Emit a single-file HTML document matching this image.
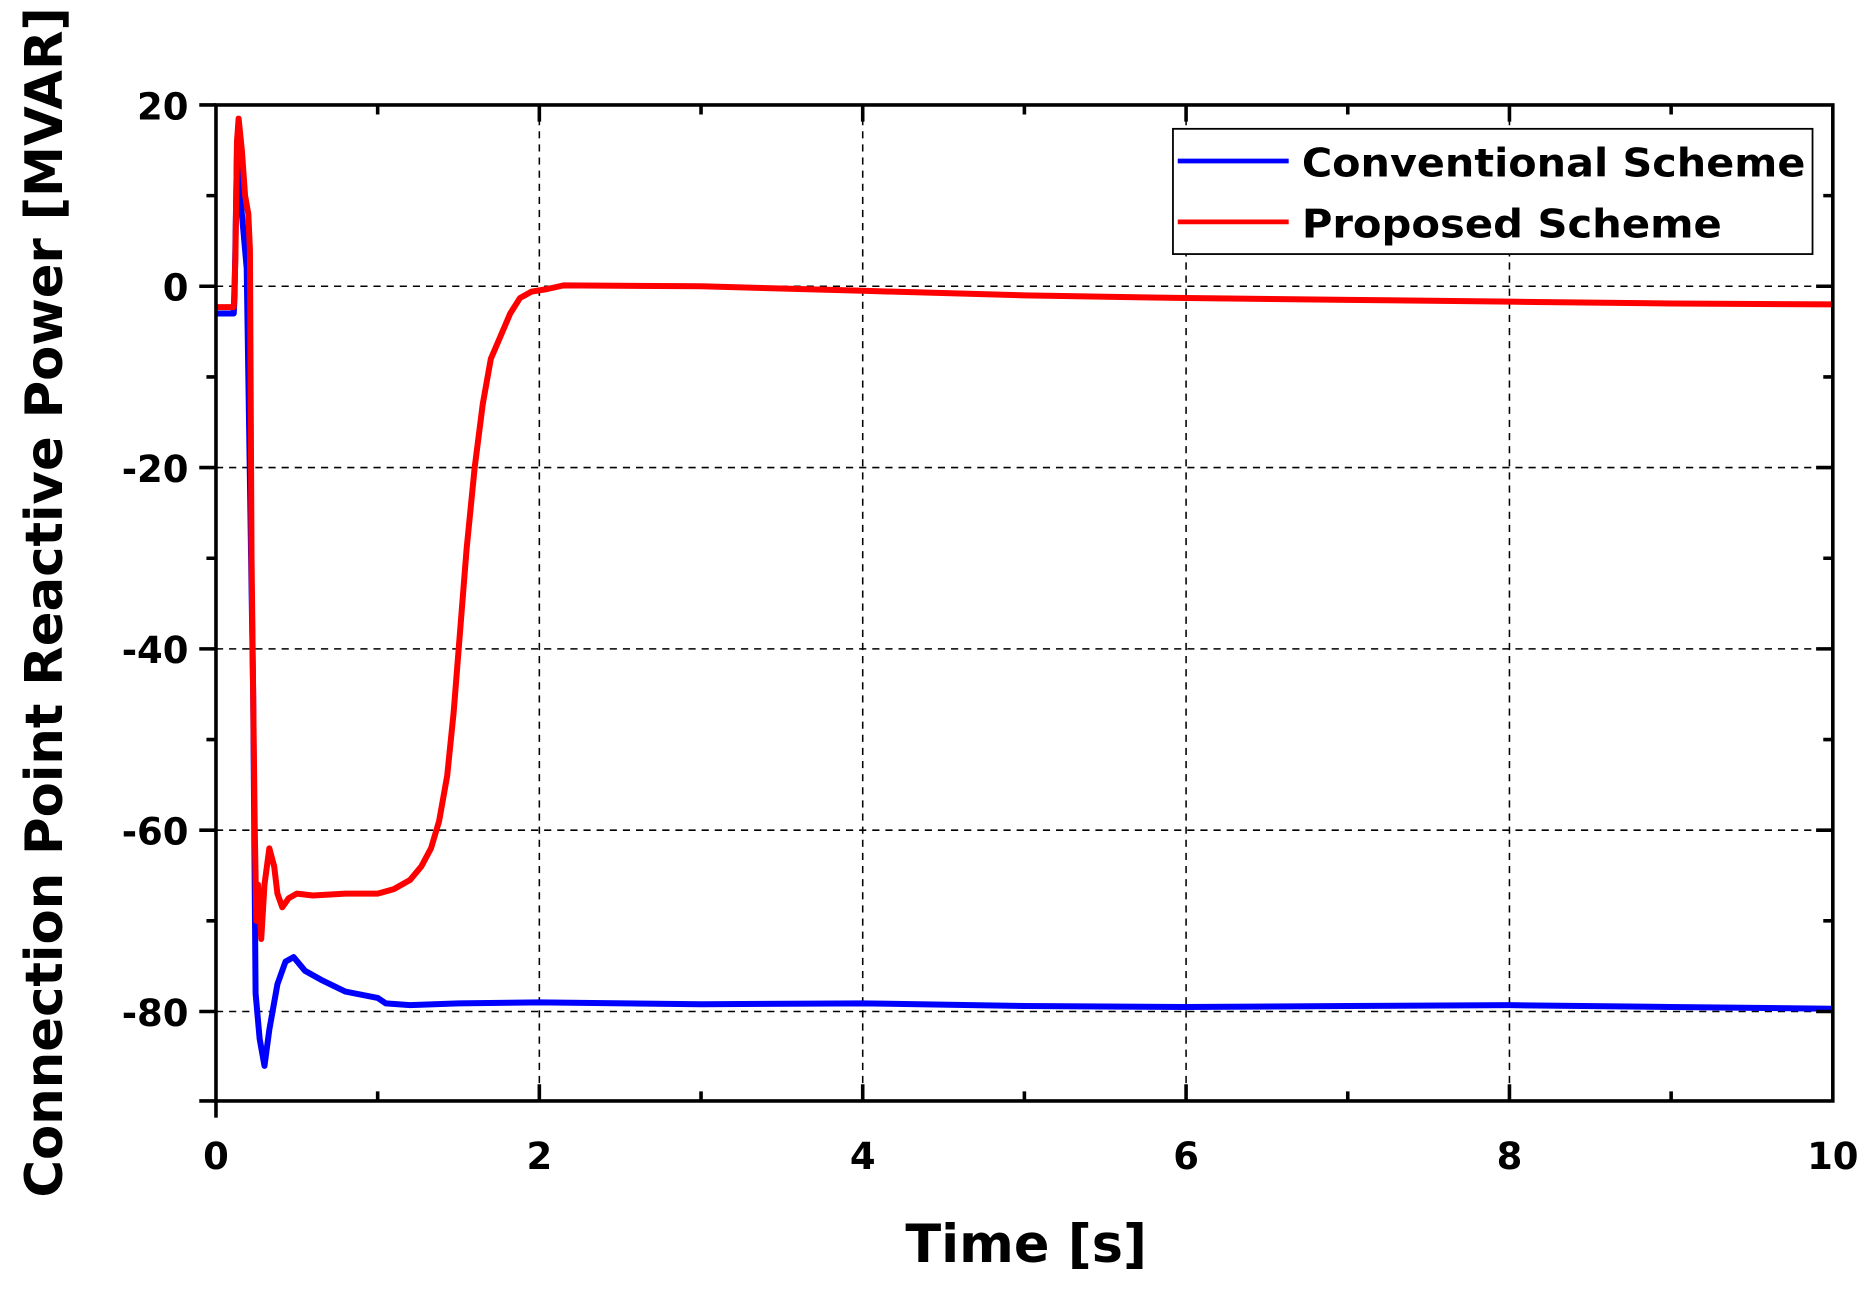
<!DOCTYPE html>
<html><head><meta charset="utf-8"><style>html,body{margin:0;padding:0;background:#fff}svg{display:block}</style></head>
<body>
<svg width="1871" height="1293" viewBox="0 0 1568 1084" preserveAspectRatio="none" xmlns="http://www.w3.org/2000/svg" font-family="DejaVu Sans, Liberation Sans, sans-serif" font-weight="bold">
<rect width="1568" height="1084" fill="#fff"/>
<g stroke="#000" stroke-width="1.3" stroke-dasharray="6,5">
<line x1="452" y1="88" x2="452" y2="923"/><line x1="723" y1="88" x2="723" y2="923"/><line x1="994" y1="88" x2="994" y2="923"/><line x1="1265" y1="88" x2="1265" y2="923"/>
<line x1="181" y1="240" x2="1536" y2="240"/><line x1="181" y1="392" x2="1536" y2="392"/><line x1="181" y1="544" x2="1536" y2="544"/><line x1="181" y1="696" x2="1536" y2="696"/><line x1="181" y1="848" x2="1536" y2="848"/>
</g>
<g transform="translate(181,240) scale(135.5,-7.6)" fill="none" stroke-linejoin="round">
<path vector-effect="non-scaling-stroke" stroke="#0000ff" stroke-width="6" d="M0,-3 L0.11,-3 L0.115,-1 L0.13,15 L0.15,10 L0.19,2 L0.23,-45 L0.245,-78 L0.27,-83 L0.3,-86 L0.33,-82 L0.38,-77 L0.43,-74.5 L0.48,-74 L0.55,-75.5 L0.65,-76.5 L0.8,-77.8 L1.0,-78.5 L1.05,-79.1 L1.2,-79.3 L1.5,-79.1 L2,-79 L3,-79.2 L4,-79.1 L5,-79.4 L6,-79.5 L7,-79.4 L8,-79.3 L9,-79.5 L10,-79.7"/>
<path vector-effect="non-scaling-stroke" stroke="#ff0000" stroke-width="6" d="M0,-2.3 L0.11,-2.3 L0.12,3 L0.13,16 L0.14,18.5 L0.16,15 L0.18,10 L0.2,8 L0.21,4 L0.22,-30 L0.24,-60 L0.25,-70 L0.26,-66 L0.28,-72 L0.3,-66 L0.33,-62 L0.36,-64 L0.38,-67 L0.41,-68.5 L0.45,-67.5 L0.5,-67 L0.6,-67.2 L0.8,-67 L1.0,-67 L1.1,-66.5 L1.2,-65.5 L1.27,-64 L1.33,-62 L1.38,-59 L1.43,-54 L1.47,-47 L1.51,-38 L1.55,-29 L1.6,-20 L1.65,-13 L1.7,-8 L1.76,-5.5 L1.82,-3 L1.88,-1.3 L1.95,-0.6 L2.05,-0.3 L2.15,0.1 L3,0 L4,-0.5 L5,-1 L6,-1.3 L7,-1.5 L8,-1.7 L9,-1.9 L10,-2"/>
</g>
<rect x="181" y="88" width="1355" height="835" fill="none" stroke="#000" stroke-width="3"/>
<g stroke="#000" stroke-width="3">
<path d="M316.5,923v-8M587.5,923v-8M858.5,923v-8M1129.5,923v-8M1400.5,923v-8M452,923v-14M723,923v-14M994,923v-14M1265,923v-14"/>
<path d="M316.5,88v8M587.5,88v8M858.5,88v8M1129.5,88v8M1400.5,88v8M452,88v14M723,88v14M994,88v14M1265,88v14"/>
<path d="M181,164h-8M181,316h-8M181,468h-8M181,620h-8M181,772h-8M181,240h-14M181,392h-14M181,544h-14M181,696h-14M181,848h-14M181,88h-14M181,923h-14"/>
<path d="M1536,164h-8M1536,316h-8M1536,468h-8M1536,620h-8M1536,772h-8M1536,240h-14M1536,392h-14M1536,544h-14M1536,696h-14M1536,848h-14"/>
<path d="M181,923v14"/>
</g>
<g font-size="31" text-anchor="end">
<text x="158" y="100">20</text><text x="158" y="252">0</text><text x="158" y="404">-20</text><text x="158" y="556">-40</text><text x="158" y="708">-60</text><text x="158" y="860">-80</text>
</g>
<g font-size="31" text-anchor="middle">
<text x="181" y="980">0</text><text x="452" y="980">2</text><text x="723" y="980">4</text><text x="994" y="980">6</text><text x="1265" y="980">8</text><text x="1536" y="980">10</text>
</g>
<text x="860" y="1058" font-size="44" text-anchor="middle">Time [s]</text>
<text transform="translate(52,505) rotate(-90)" font-size="43" text-anchor="middle" textLength="998" lengthAdjust="spacingAndGlyphs">Connection Point Reactive Power [MVAR]</text>
<rect x="983" y="108" width="536" height="105" fill="#fff" stroke="#000" stroke-width="1.5"/>
<line x1="987" y1="135" x2="1080" y2="135" stroke="#0000ff" stroke-width="4"/>
<line x1="987" y1="186" x2="1080" y2="186" stroke="#ff0000" stroke-width="4"/>
<text x="1091" y="148" font-size="33" textLength="422" lengthAdjust="spacingAndGlyphs">Conventional Scheme</text>
<text x="1091" y="199" font-size="33" textLength="352" lengthAdjust="spacingAndGlyphs">Proposed Scheme</text>
</svg>
</body></html>
